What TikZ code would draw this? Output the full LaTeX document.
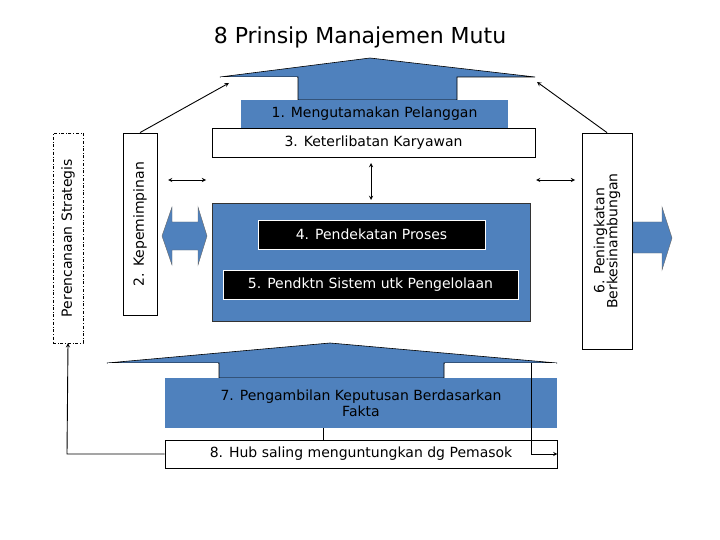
\documentclass[tikz,border=0pt]{standalone}
\usepackage{fontspec}
\setmainfont{DejaVu Sans}
\begin{document}
\begin{tikzpicture}[x=1pt,y=-1pt,
  bl/.style={fill=myblue,draw=none},
  wbox/.style={draw=black,fill=white,line width=0.8pt},
  lbl/.style={font=\fontsize{14}{16}\selectfont},
  arr/.style={-stealth,line width=0.9pt}]
\definecolor{myblue}{HTML}{4F81BD}
\useasboundingbox (0,0) rectangle (720,540);
\node[font=\fontsize{22}{26}\selectfont] (title) at (360,37) {8 Prinsip Manajemen Mutu};
% top roof
\fill[myblue,draw=black,line width=0.6pt] (220,77) -- (370,58) -- (535,77) -- (457,77) -- (457,100) -- (298,100) -- (298,77) -- cycle;
\draw[white,line width=1pt] (221,77.5) -- (297,77.5);
\node[bl,minimum width=267,minimum height=28,inner sep=0,lbl] (n1) at (374.5,114) {1. Mengutamakan Pelanggan};
\node[wbox,minimum width=323,minimum height=29,inner sep=0,lbl] (n3) at (373.5,142.5) {3. Keterlibatan Karyawan};
% side boxes
\node[draw=black,dash dot,fill=white,minimum width=30,minimum height=210,inner sep=0] (ps) at (68,238) {};
\node[rotate=90,lbl] at (ps) {Perencanaan Strategis};
\node[wbox,minimum width=34,minimum height=182,inner sep=0] (n2) at (140,224) {};
\node[rotate=90,lbl] at (n2) {2. Kepemimpinan};
\node[wbox,minimum width=50,minimum height=216,inner sep=0] (n6) at (607,241) {};
\node[rotate=90,lbl,align=center] at (n6) {6. Peningkatan\\[-3pt]Berkesinambungan};
% center
\node[fill=myblue,draw=black!80,line width=0.8pt,minimum width=318,minimum height=118,inner sep=0] (c) at (371,262) {};
\node[fill=black,draw=white,line width=0.8pt,text=white,minimum width=227,minimum height=29,inner sep=0,lbl] (n4) at (371.5,234.5) {4. Pendekatan Proses};
\node[fill=black,draw=white,line width=0.8pt,text=white,minimum width=295,minimum height=29,inner sep=0,lbl] (n5) at (370.5,284.5) {5. Pendktn Sistem utk Pengelolaan};
% double arrows
\draw[stealth-stealth,line width=0.9pt] (168,180) -- (206,180);
\draw[stealth-stealth,line width=0.9pt] (371,163) -- (371,200);
\draw[stealth-stealth,line width=0.9pt] (536,180) -- (575,180);
\fill[myblue,draw=black!60,line width=0.4pt] (162,236) -- (172,207) -- (172,222) -- (198,222) -- (198,207) -- (207,236) -- (198,265) -- (198,250) -- (172,250) -- (172,265) -- cycle;
\fill[myblue,draw=black!60,line width=0.4pt] (633,222) -- (662,222) -- (662,207) -- (672,238) -- (662,270) -- (662,253) -- (633,253) -- cycle;
% arrows from boxes to roof
\coordinate (rl) at (229,83);
\coordinate (rr) at (537,82);
\draw[arr] (n2.north) -- (rl);
\draw[arr] (n6.north) -- (rr);
% bottom roof
\fill[myblue,draw=black,line width=0.6pt] (107,363) -- (330,343) -- (557,363) -- (444,363) -- (444,378) -- (219,378) -- (219,363) -- cycle;
\draw[white,line width=1pt] (108,363.5) -- (218,363.5) (445,363.5) -- (556,363.5);
\node[bl,minimum width=392,minimum height=50,inner sep=0,lbl,align=center] (n7) at (361,403) {7. Pengambilan Keputusan Berdasarkan\\Fakta};
\node[wbox,minimum width=392,minimum height=28,inner sep=0,lbl] (n8) at (361,454) {8. Hub saling menguntungkan dg Pemasok};
\draw[line width=0.8pt] (323,428) -- (323,440);
\draw[arr] (n8.west) -- (67,454) -- (ps.south);
\coordinate (rs) at (531,363);
\draw[arr] (rs) -- (531,454) -- (n8.east);
\end{tikzpicture}
\end{document}
